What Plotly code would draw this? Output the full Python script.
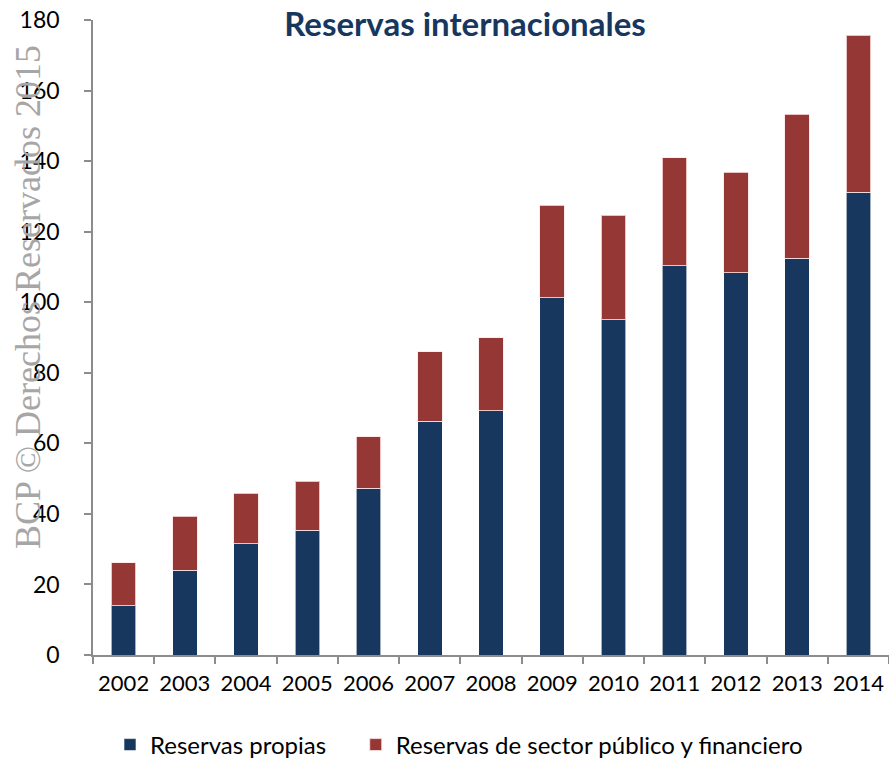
import plotly.graph_objects as go

years = ["2002", "2003", "2004", "2005", "2006", "2007", "2008",
         "2009", "2010", "2011", "2012", "2013", "2014"]
propias = [14.0, 24.0, 31.5, 35.4, 47.3, 66.3, 69.2, 101.2, 95.0, 110.3, 108.3, 112.5, 131.2]
totales = [26.1, 39.4, 45.9, 49.3, 61.8, 85.9, 89.9, 127.5, 124.7, 140.9, 136.9, 153.3, 175.7]
publico = [round(t - p, 1) for t, p in zip(totales, propias)]

BLUE = "#17375E"
RED = "#953735"
W, H = 889, 759
L, R, T, B = 93, 0, 20, 104
PW, PH = W - L - R, H - T - B

fig = go.Figure()
fig.add_trace(go.Bar(x=years, y=propias, name="Reservas propias" + "\u00a0" * 4,
                     marker=dict(color=BLUE, line=dict(color="rgba(255,255,255,0.6)", width=1))))
fig.add_trace(go.Bar(x=years, y=publico, name="Reservas de sector público y financiero",
                     marker=dict(color=RED, line=dict(color="rgba(255,230,230,0.8)", width=1))))

fig.update_layout(
    width=W, height=H, barmode="stack", bargap=0.6,
    margin=dict(l=L, r=R, t=T, b=B, pad=0, autoexpand=False),
    plot_bgcolor="white", paper_bgcolor="white",
    font=dict(family="Lato", size=22, color="black"),
    title=dict(text="<b>Reservas internacionales</b>", x=465 / W, xanchor="center",
               y=1 - 24 / H, yanchor="middle", yref="container",
               font=dict(family="Lato", size=33, color=BLUE)),
    legend=dict(orientation="h", x=(110 - L) / PW, xanchor="left", y=-(745 - 655) / PH, yanchor="middle",
                font=dict(size=24), itemwidth=30, traceorder="normal", bgcolor="rgba(0,0,0,0)"),
    showlegend=True,
)
fig.update_yaxes(range=[0, 180], tickmode="linear", tick0=0, dtick=20, automargin=False,
                 showline=True, linecolor="#8c8c8c", linewidth=1.5,
                 ticks="outside", ticklen=7, tickcolor="#8c8c8c", tickwidth=1.5,
                 showgrid=False, zeroline=False, ticklabelstandoff=20,
                 tickfont=dict(size=23))
fig.update_xaxes(showline=True, linecolor="#8c8c8c", linewidth=1.5, automargin=False,
                 ticks="outside", ticklen=7, tickcolor="#8c8c8c", tickwidth=1.5,
                 tickson="boundaries", showgrid=False, ticklabelstandoff=8, tickangle=0,
                 tickfont=dict(size=22))

fig.add_annotation(text="BCP © Derechos Reservados 2015", textangle=-90,
                   xref="paper", yref="paper", x=(28 - L) / PW, y=(655 - 297) / PH,
                   xanchor="center", yanchor="middle", showarrow=False,
                   font=dict(family="Liberation Serif", size=36, color="#a6a6a6"))

fig.write_html("out.html", config={"displayModeBar": False},
               post_script="document.body.style.margin='0px';")
